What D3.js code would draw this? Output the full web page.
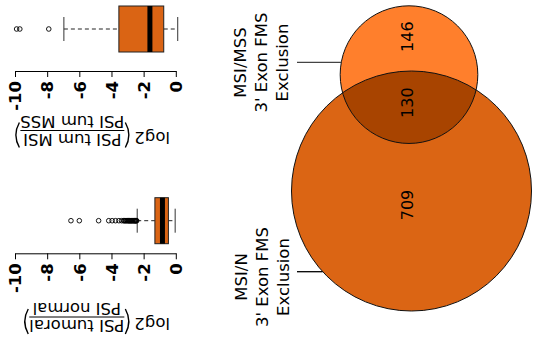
<!DOCTYPE html>
<html><head><meta charset="utf-8">
<script src="https://cdn.jsdelivr.net/npm/d3@7"></script>
<style>body{margin:0;background:#fff} svg{display:block}</style>
</head><body>
<svg id="c" width="534" height="339"></svg>
<script>
// ---------- data ----------
const axisTicks = [-10, -8, -6, -4, -2, 0];
const boxNames = ["MSI vs MSS", "MSI vs N"];
const boxQ1 = [-3.54, -1.30];
const boxMedian = [-1.61, -0.83];
const boxQ3 = [-0.75, -0.46];
const whiskerLow = [-6.96, -2.40];
const whiskerHigh = [0.12, -0.04];
const outliersMSS = [-7.9, -9.7, -9.9];
const outliersN = [-6.52, -6.0, -4.8, -4.17, -3.96, -3.75, -3.54, -3.37, -3.25, -3.2, -3.15, -3.1,
  -3.05, -3.0, -2.95, -2.92, -2.88, -2.85, -2.8, -2.78, -2.74, -2.7, -2.66, -2.62, -2.58, -2.55,
  -2.52, -2.49, -2.46, -2.43];
const titleNum = ["PSI tum MSI", "PSI tumoral"];
const titleDen = ["PSI tum MSS", "PSI normal"];

const vennLabels = [["MSI/MSS", "3' Exon FMS", "Exclusion"], ["MSI/N", "3' Exon FMS", "Exclusion"]];
const vennOnlyMSS = 146;
const vennBoth = 130;
const vennOnlyN = 709;

// ---------- setup ----------
const svg = d3.select("#c");
const FONT = "DejaVu Sans, Verdana, sans-serif";
const boxFill = "#DA6414";

const x = d3.scaleLinear().domain([-10, 0]).range([15, 175.8]);

const panels = [
  { boxY: 29, axisY: 71, titleY: 130.5, outliers: outliersMSS },
  { boxY: 220.7, axisY: 253.3, titleY: 317, outliers: outliersN }
];

panels.forEach((p, i) => {
  const g = svg.append("g");
  const half = 23, capHalf = 12;
  // whiskers
  g.append("line").attr("x1", x(whiskerLow[i])).attr("x2", x(boxQ1[i]))
    .attr("y1", p.boxY).attr("y2", p.boxY)
    .attr("stroke", "#222").attr("stroke-width", 1).attr("stroke-dasharray", "4,3");
  g.append("line").attr("x1", x(boxQ3[i])).attr("x2", x(whiskerHigh[i]))
    .attr("y1", p.boxY).attr("y2", p.boxY)
    .attr("stroke", "#222").attr("stroke-width", 1).attr("stroke-dasharray", "4,3");
  [whiskerLow[i], whiskerHigh[i]].forEach(v => {
    g.append("line").attr("x1", x(v)).attr("x2", x(v))
      .attr("y1", p.boxY - capHalf).attr("y2", p.boxY + capHalf)
      .attr("stroke", "#333").attr("stroke-width", 1);
  });
  // box
  g.append("rect").attr("x", x(boxQ1[i])).attr("width", x(boxQ3[i]) - x(boxQ1[i]))
    .attr("y", p.boxY - half).attr("height", 2 * half)
    .attr("fill", boxFill).attr("stroke", "#222").attr("stroke-width", 1);
  g.append("line").attr("x1", x(boxMedian[i])).attr("x2", x(boxMedian[i]))
    .attr("y1", p.boxY - half).attr("y2", p.boxY + half)
    .attr("stroke", "#000").attr("stroke-width", 5);
  // outliers
  g.selectAll("circle.o").data(p.outliers).enter().append("circle")
    .attr("cx", d => x(d)).attr("cy", p.boxY).attr("r", 2.3)
    .attr("fill", "none").attr("stroke", "#000").attr("stroke-width", 0.9);

  // axis
  const ax = svg.append("g").attr("transform", `translate(0,${p.axisY})`)
    .call(d3.axisBottom(x).tickValues(axisTicks).tickSize(6).tickSizeOuter(0)
      .tickFormat(d => String(d)));
  ax.select(".domain").attr("stroke", "#000").attr("stroke-width", 1);
  ax.selectAll(".tick line").attr("stroke", "#000").attr("stroke-width", 1);
  ax.selectAll(".tick text")
    .attr("transform", "rotate(-90)").attr("x", -10).attr("y", 0).attr("dy", "0.35em")
    .attr("text-anchor", "end").attr("font-family", FONT).attr("font-size", 16.5)
    .attr("font-weight", "bold").attr("fill", "#000");

  // title (rotated 180)
  const t = svg.append("g").attr("transform", `translate(170,${p.titleY}) rotate(180)`)
    .attr("font-family", FONT).attr("font-size", 16.5).attr("fill", "#000");
  const lg = t.append("text").text("log2").attr("y", -1);
  const wLog = lg.node().getComputedTextLength();
  const nT = t.append("text").text(titleNum[i]).attr("text-anchor", "middle").attr("y", -3);
  const dT = t.append("text").text(titleDen[i]).attr("text-anchor", "middle").attr("y", 14.5);
  const wF = Math.max(nT.node().getComputedTextLength(), dT.node().getComputedTextLength());
  let cx0 = wLog + 3;
  const pw = 6;
  t.append("path").attr("d", `M${cx0 + pw},-17 Q${cx0 - 1},-4.5 ${cx0 + pw},8`)
    .attr("fill", "none").attr("stroke", "#000").attr("stroke-width", 1.4);
  const fx = cx0 + pw + 1;
  nT.attr("x", fx + wF / 2);
  dT.attr("x", fx + wF / 2);
  t.append("line").attr("x1", fx).attr("x2", fx + wF).attr("y1", 0).attr("y2", 0)
    .attr("stroke", "#000").attr("stroke-width", 1);
  const px = fx + wF + 1;
  t.append("path").attr("d", `M${px},-17 Q${px + pw + 1},-4.5 ${px},8`)
    .attr("fill", "none").attr("stroke", "#000").attr("stroke-width", 1.4);
});

// ---------- Venn ----------
const totalN = vennOnlyN + vennBoth;
const totalMSS = vennOnlyMSS + vennBoth;
const r = d3.scaleSqrt().domain([0, totalN]).range([0, 120]);
const R1 = r(totalN), R2 = r(totalMSS);
const areaPerUnit = Math.PI * R1 * R1 / totalN;
function lens(d) {
  const d1 = (d * d - R2 * R2 + R1 * R1) / (2 * d), d2 = d - d1;
  return R1 * R1 * Math.acos(d1 / R1) - d1 * Math.sqrt(R1 * R1 - d1 * d1) +
         R2 * R2 * Math.acos(d2 / R2) - d2 * Math.sqrt(R2 * R2 - d2 * d2);
}
const target = vennBoth * areaPerUnit;
let lo = R1 - R2 + 0.01, hi = R1 + R2 - 0.01;
for (let k = 0; k < 60; k++) { const m = (lo + hi) / 2; if (lens(m) > target) lo = m; else hi = m; }
const dist = (lo + hi) / 2;
const big = { x: 411.5, y: 191, r: R1 };
const small = { x: 409, y: 191 - dist, r: R2 };

const defs = svg.append("defs");
defs.append("clipPath").attr("id", "clipBig").append("circle")
  .attr("cx", big.x).attr("cy", big.y).attr("r", big.r);

svg.append("circle").attr("cx", big.x).attr("cy", big.y).attr("r", big.r).attr("fill", "#DB6514");
svg.append("circle").attr("cx", small.x).attr("cy", small.y).attr("r", small.r).attr("fill", "#FF7F2C");
svg.append("circle").attr("cx", small.x).attr("cy", small.y).attr("r", small.r)
  .attr("clip-path", "url(#clipBig)").attr("fill", "#A84400");
svg.append("circle").attr("cx", big.x).attr("cy", big.y).attr("r", big.r)
  .attr("fill", "none").attr("stroke", "#111").attr("stroke-width", 1);
svg.append("circle").attr("cx", small.x).attr("cy", small.y).attr("r", small.r)
  .attr("fill", "none").attr("stroke", "#111").attr("stroke-width", 1);

const numG = svg.append("g").attr("font-family", FONT).attr("font-size", 16).attr("fill", "#000");
[[vennOnlyMSS, 407, small.y - 38], [vennBoth, 407, small.y + 28], [vennOnlyN, 407, big.y + 14]]
  .forEach(([v, px, py]) => {
    numG.append("text").text(v).attr("transform", `translate(${px},${py}) rotate(-90)`)
      .attr("text-anchor", "middle").attr("dominant-baseline", "central");
  });

// set labels
const labelSpecs = [
  { lines: vennLabels[0], cx: 261, cy: 62.5, lineY: 62.3, circ: small, col: "#444" },
  { lines: vennLabels[1], cx: 262, cy: 277, lineY: 271.7, circ: big, col: "#000" }
];
labelSpecs.forEach(s => {
  const g = svg.append("g").attr("transform", `translate(${s.cx},${s.cy}) rotate(-90)`)
    .attr("font-family", FONT).attr("font-size", 16.5).attr("fill", "#000");
  s.lines.forEach((ln, j) => {
    g.append("text").text(ln).attr("x", 0).attr("y", (j - 1) * 21)
      .attr("text-anchor", "middle").attr("dominant-baseline", "central");
  });
  const dy = s.lineY - s.circ.y;
  const edgeX = s.circ.x - Math.sqrt(s.circ.r * s.circ.r - dy * dy);
  svg.append("line").attr("x1", 297).attr("x2", edgeX).attr("y1", s.lineY).attr("y2", s.lineY)
    .attr("stroke", s.col).attr("stroke-width", 1.3);
});
</script>
</body></html>
